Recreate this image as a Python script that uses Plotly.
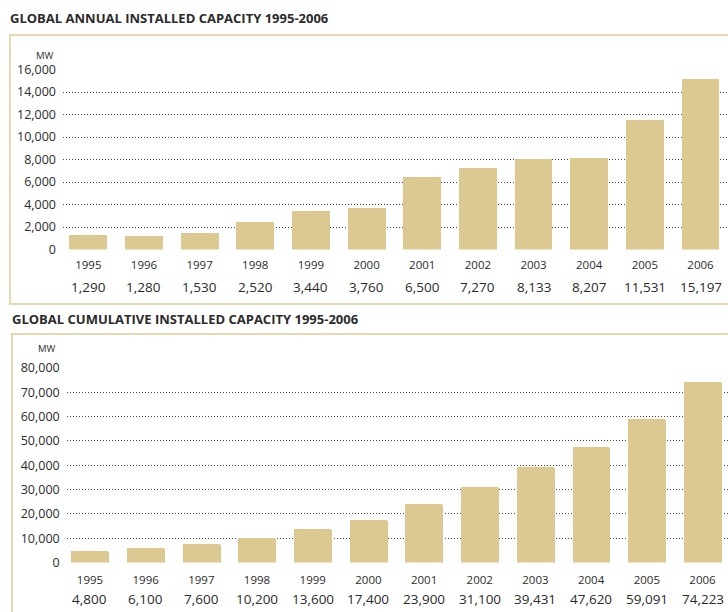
import plotly.graph_objects as go

years = ["1995", "1996", "1997", "1998", "1999", "2000", "2001", "2002", "2003", "2004", "2005", "2006"]
annual_mw = [1290, 1280, 1530, 2520, 3440, 3760, 6500, 7270, 8133, 8207, 11531, 15197]
cumulative_mw = [4800, 6100, 7600, 10200, 13600, 17400, 23900, 31100, 39431, 47620, 59091, 74223]
annual_ticks = [0, 2000, 4000, 6000, 8000, 10000, 12000, 14000, 16000]
cumulative_ticks = [0, 10000, 20000, 30000, 40000, 50000, 60000, 70000, 80000]
title_annual = "GLOBAL ANNUAL INSTALLED CAPACITY 1995-2006"
title_cumulative = "GLOBAL CUMULATIVE INSTALLED CAPACITY 1995-2006"

W, H = 728, 612
BAR = "#DCC891"
BORDER = "#E8D8AE"
TXT = "#2b2b2b"
FONT = "Open Sans"

def py(p):
    return 1 - p / H

def px(p):
    return p / W

fig = go.Figure()
fig.add_trace(go.Bar(x=years, y=annual_mw, xaxis="x", yaxis="y", width=0.68,
                     marker=dict(color=BAR, line=dict(width=0), cornerradius=2),
                     hoverinfo="x+y"))
fig.add_trace(go.Bar(x=years, y=cumulative_mw, xaxis="x2", yaxis="y2", width=0.68,
                     marker=dict(color=BAR, line=dict(width=0), cornerradius=2),
                     hoverinfo="x+y"))

def fmt(v):
    return f"{v:,}"

grid = dict(showgrid=True, gridcolor="#4a4a4a", gridwidth=1, griddash="1px,2px",
            zeroline=False, showline=False, ticks="", automargin=False,
            tickfont=dict(family=FONT, size=12.5, color=TXT))

xcommon = dict(type="category", showgrid=False, zeroline=False, showline=False, ticks="",
               automargin=False,
               tickfont=dict(family=FONT, size=11.5, color=TXT),
               fixedrange=True)

fig.update_layout(
    width=W, height=H, margin=dict(l=0, r=0, t=0, b=0, pad=0, autoexpand=False),
    paper_bgcolor="white", plot_bgcolor="rgba(0,0,0,0)",
    showlegend=False, bargap=0,
    xaxis=dict(domain=[px(63), 1], range=[-0.455, 11.494], anchor="y",
               ticklabelstandoff=7, **xcommon),
    yaxis=dict(domain=[py(249.5), py(69.5)], range=[0, 16000], anchor="x",
               tickvals=annual_ticks, ticktext=[fmt(v) for v in annual_ticks],
               ticklabelstandoff=6, **grid),
    xaxis2=dict(domain=[px(66.7), 1], range=[-0.418, 11.458], anchor="y2",
                ticklabelstandoff=9, **xcommon),
    yaxis2=dict(domain=[py(562.5), py(368)], range=[0, 80000], anchor="x2",
                tickvals=cumulative_ticks, ticktext=[fmt(v) for v in cumulative_ticks],
                ticklabelstandoff=6, **grid),
)

shapes = [
    dict(type="rect", xref="paper", yref="paper", x0=px(10), x1=1.05, y0=py(304), y1=py(35),
         line=dict(color=BORDER, width=2), fillcolor="rgba(0,0,0,0)", layer="below"),
    dict(type="rect", xref="paper", yref="paper", x0=px(12), x1=1.05, y0=-0.05, y1=py(334),
         line=dict(color=BORDER, width=2), fillcolor="rgba(0,0,0,0)", layer="below"),
]
fig.update_layout(shapes=shapes)

ann = [
    dict(text=f"<b>{title_annual}</b>", xref="paper", yref="paper", x=px(8), y=py(18),
         xanchor="left", yanchor="middle", showarrow=False,
         font=dict(family=FONT, size=13, color=TXT)),
    dict(text=f"<b>{title_cumulative}</b>", xref="paper", yref="paper", x=px(10), y=py(319),
         xanchor="left", yanchor="middle", showarrow=False,
         font=dict(family=FONT, size=13, color=TXT)),
    dict(text="MW", xref="paper", yref="paper", x=px(56), y=py(55), xanchor="right",
         yanchor="middle", showarrow=False, font=dict(family=FONT, size=9.5, color=TXT)),
    dict(text="MW", xref="paper", yref="paper", x=px(58), y=py(348), xanchor="right",
         yanchor="middle", showarrow=False, font=dict(family=FONT, size=9.5, color=TXT)),
]
for i, v in enumerate(annual_mw):
    ann.append(dict(text=fmt(v), xref="x", yref="paper", x=i, y=py(287), xanchor="center",
                    yanchor="middle", showarrow=False, font=dict(family=FONT, size=13.5, color=TXT)))
for i, v in enumerate(cumulative_mw):
    ann.append(dict(text=fmt(v), xref="x2", yref="paper", x=i, y=py(599), xanchor="center",
                    yanchor="middle", showarrow=False, font=dict(family=FONT, size=13.5, color=TXT)))
fig.update_layout(annotations=ann)

fig.write_html("out.html")
